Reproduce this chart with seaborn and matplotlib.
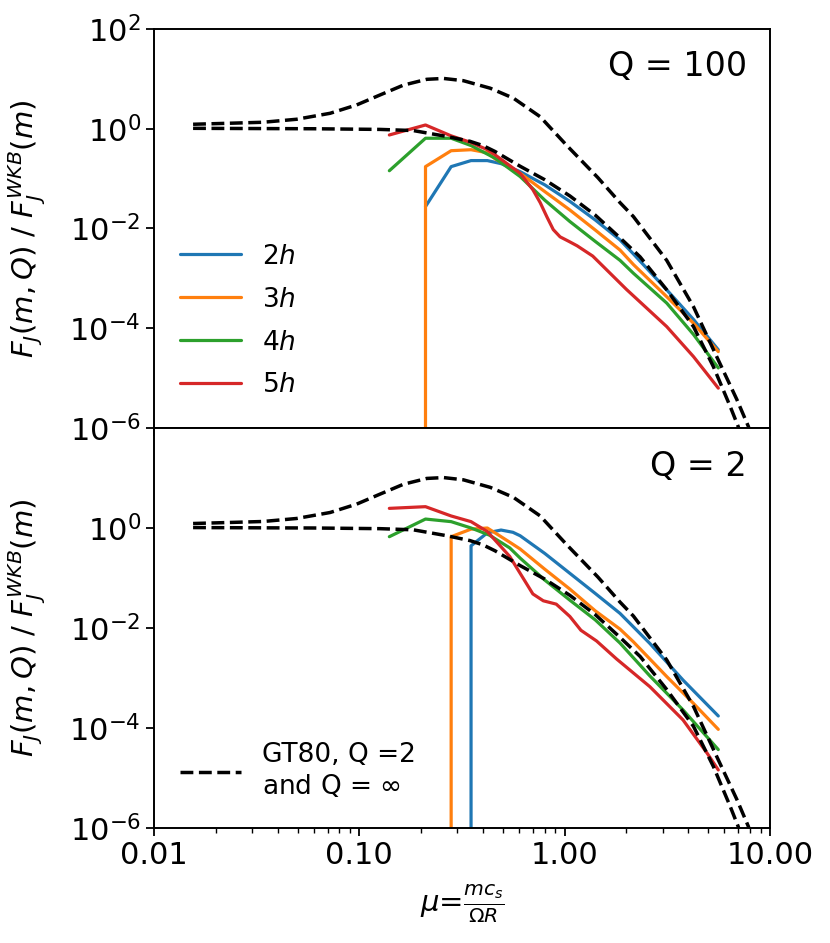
import matplotlib
matplotlib.use("Agg")
import matplotlib.pyplot as plt
import seaborn as sns
from matplotlib.ticker import FormatStrFormatter, NullFormatter, NullLocator, FixedLocator
from matplotlib.lines import Line2D

# ---------------- data ----------------
# GT80 reference curves (shared by both panels)
gt_q2_x = [0.0155, 0.0234, 0.034, 0.0495, 0.072, 0.097, 0.126, 0.164, 0.213, 0.257, 0.321,
           0.434, 0.563, 0.759, 1.02, 1.45, 1.86, 2.16, 3.14, 4.24, 5.5, 6.9, 7.85, 8.3]
gt_q2_y = [1.23, 1.29, 1.35, 1.55, 2.04, 3.0, 4.75, 7.5, 9.8, 10.2, 9.2,
           6.5, 4.1, 1.75, 0.47, 0.105, 0.033, 0.0174, 0.0023, 2.7e-4, 2.7e-5, 3.7e-6, 1.07e-6, 3e-7]
gt_inf_x = [0.0155, 0.03, 0.06, 0.126, 0.183, 0.267, 0.346, 0.40, 0.458, 0.607, 0.80, 1.06,
            1.41, 1.86, 2.33, 3.14, 4.24, 5.3, 6.4, 7.0, 7.5]
gt_inf_y = [1.02, 1.01, 1.0, 0.97, 0.92, 0.70, 0.56, 0.46, 0.35, 0.177, 0.095, 0.045,
            0.0185, 0.0065, 0.0027, 5.9e-4, 1.08e-4, 1.7e-5, 2.7e-6, 1.07e-6, 3e-7]

# Q = 100 panel
q100_2h_x = [0.21, 0.28, 0.35, 0.42, 0.49, 0.607, 0.80, 1.06, 1.41, 1.86, 2.16, 3.14, 4.24, 5.6]
q100_2h_y = [0.0275, 0.174, 0.23, 0.23, 0.20, 0.138, 0.075, 0.035, 0.0148, 0.0059, 0.0031,
             5.9e-4, 1.5e-4, 3.7e-5]
q100_3h_x = [0.21, 0.21, 0.28, 0.35, 0.42, 0.458, 0.607, 0.80, 1.06, 1.41, 1.86, 2.16, 3.14, 4.24, 5.6]
q100_3h_y = [1e-9, 0.174, 0.363, 0.38, 0.33, 0.25, 0.128, 0.055, 0.0235, 0.0093, 0.0037, 0.0019,
             4.3e-4, 1.26e-4, 3.4e-5]
q100_4h_x = [0.14, 0.21, 0.28, 0.35, 0.458, 0.607, 0.80, 1.06, 1.41, 1.86, 2.16, 3.14, 4.24, 5.6]
q100_4h_y = [0.144, 0.645, 0.645, 0.46, 0.257, 0.11, 0.037, 0.0138, 0.0055, 0.0023, 0.00127,
             3.2e-4, 7.5e-5, 1.6e-5]
q100_5h_x = [0.14, 0.21, 0.28, 0.35, 0.42, 0.458, 0.607, 0.70, 0.76, 0.82, 0.88, 0.95, 1.05,
             1.15, 1.37, 2.0, 3.14, 4.24, 5.6]
q100_5h_y = [0.75, 1.19, 0.72, 0.53, 0.38, 0.30, 0.128, 0.06, 0.033, 0.017, 0.0095, 0.0068,
             0.0055, 0.0045, 0.0028, 6e-4, 1.08e-4, 2.7e-5, 6.3e-6]

# Q = 2 panel
q2_2h_x = [0.35, 0.35, 0.42, 0.49, 0.56, 0.607, 0.80, 1.06, 1.41, 1.86, 2.6, 3.77, 5.6]
q2_2h_y = [1e-9, 0.44, 0.80, 0.91, 0.82, 0.70, 0.31, 0.124, 0.049, 0.0196, 0.0049, 9.1e-4, 1.74e-4]
q2_3h_x = [0.28, 0.28, 0.35, 0.42, 0.458, 0.54, 0.607, 0.80, 1.06, 1.41, 1.86, 2.16, 3.14, 4.24, 5.6]
q2_3h_y = [1e-9, 0.67, 0.95, 1.0, 0.80, 0.52, 0.38, 0.15, 0.06, 0.022, 0.0095, 0.0053, 0.00107,
           3.1e-4, 9.4e-5]
q2_4h_x = [0.14, 0.21, 0.28, 0.35, 0.43, 0.54, 0.607, 0.80, 1.06, 1.41, 1.86, 2.6, 3.77, 5.6]
q2_4h_y = [0.67, 1.51, 1.34, 1.0, 0.72, 0.40, 0.25, 0.091, 0.036, 0.0145, 0.005, 0.0011,
           2.3e-4, 3.7e-5]
q2_5h_x = [0.14, 0.21, 0.28, 0.35, 0.42, 0.54, 0.607, 0.70, 0.787, 0.91, 1.06, 1.2, 1.43, 1.79,
           2.6, 3.77, 4.95, 5.6]
q2_5h_y = [2.47, 2.67, 1.74, 1.34, 0.85, 0.27, 0.124, 0.048, 0.035, 0.030, 0.017, 0.009, 0.0055,
           0.0024, 6.7e-4, 1.45e-4, 3.1e-5, 1.45e-5]

series_labels = ["2$h$", "3$h$", "4$h$", "5$h$"]
series_colors = ["#1f77b4", "#ff7f0e", "#2ca02c", "#d62728"]
panel_titles = ["Q = 100", "Q = 2"]
gt_label = "GT80, Q =2\nand Q = $\\infty$"
x_ticks = [0.01, 0.1, 1.0, 10.0]

# ---------------- style ----------------
sns.set_theme(style="ticks")
plt.rcParams.update({
    "font.family": ["DejaVu Sans"],
    "mathtext.fontset": "dejavusans",
    "axes.edgecolor": "black",
    "axes.labelcolor": "black",
    "text.color": "black",
    "xtick.color": "black",
    "ytick.color": "black",
    "axes.linewidth": 1.4,
    "xtick.major.size": 6, "ytick.major.size": 6,
    "xtick.minor.size": 3.5, "ytick.minor.size": 3.5,
    "xtick.major.width": 1.3, "ytick.major.width": 1.3,
    "xtick.minor.width": 1.0,
    "xtick.labelsize": 22, "ytick.labelsize": 22,
})

fig = plt.figure(figsize=(8.3, 9.43), dpi=100)
L, W = 154 / 830, 616 / 830
ax1 = fig.add_axes([L, 1 - 428 / 943, W, 399 / 943])
ax2 = fig.add_axes([L, 1 - 828 / 943, W, 400 / 943], sharex=ax1)

panels = [
    (ax1, [(q100_2h_x, q100_2h_y), (q100_3h_x, q100_3h_y), (q100_4h_x, q100_4h_y), (q100_5h_x, q100_5h_y)]),
    (ax2, [(q2_2h_x, q2_2h_y), (q2_3h_x, q2_3h_y), (q2_4h_x, q2_4h_y), (q2_5h_x, q2_5h_y)]),
]

for i, (ax, ser) in enumerate(panels):
    for (xs, ys), col in zip(ser, series_colors):
        sns.lineplot(x=xs, y=ys, ax=ax, color=col, lw=2.3, estimator=None, sort=False,
                     legend=False, zorder=2)
    for xs, ys in [(gt_q2_x, gt_q2_y), (gt_inf_x, gt_inf_y)]:
        sns.lineplot(x=xs, y=ys, ax=ax, color="black", lw=2.5, linestyle="--",
                     estimator=None, sort=False, legend=False, zorder=3)
    ax.set_xscale("log")
    ax.set_yscale("log")
    ax.set_xlim(0.01, 10)
    ax.set_ylim(1e-6, 1e2)
    ax.text(0.963, 0.905, panel_titles[i], transform=ax.transAxes, ha="right", va="center",
            fontsize=24)
    ax.set_ylabel(r"$F_J(m, Q)$ / $F_J^{WKB}(m)$", fontsize=21)
    ax.yaxis.set_label_coords(-0.172, 0.5)
    ax.yaxis.set_minor_locator(NullLocator())
    ax.set_xlabel("")

ax1.yaxis.set_major_locator(FixedLocator([1e-6, 1e-4, 1e-2, 1e0, 1e2]))
ax2.yaxis.set_major_locator(FixedLocator([1e-6, 1e-4, 1e-2, 1e0]))
ax2.xaxis.set_major_locator(FixedLocator(x_ticks))
ax2.xaxis.set_major_formatter(FormatStrFormatter("%.2f"))
ax2.xaxis.set_minor_formatter(NullFormatter())
ax1.tick_params(axis="x", which="both", labelbottom=False)
ax2.set_xlabel(r"$\mu$=$\frac{mc_s}{\Omega R}$", fontsize=21, labelpad=9)

handles = [Line2D([], [], color=c, lw=2.3) for c in series_colors]
ax1.legend(handles, series_labels, loc="center left", bbox_to_anchor=(0.042, 0.268),
           frameon=False, fontsize=19, borderpad=0, borderaxespad=0, labelspacing=0.64,
           handletextpad=0.8, handlelength=2.3)
ax2.legend([Line2D([], [], color="black", lw=2.5, linestyle="--")], [gt_label],
           loc="center left", bbox_to_anchor=(0.042, 0.1425), frameon=False, fontsize=19,
           borderpad=0, borderaxespad=0, handletextpad=0.8, handlelength=2.3)

fig.savefig("out.png", dpi=100)
